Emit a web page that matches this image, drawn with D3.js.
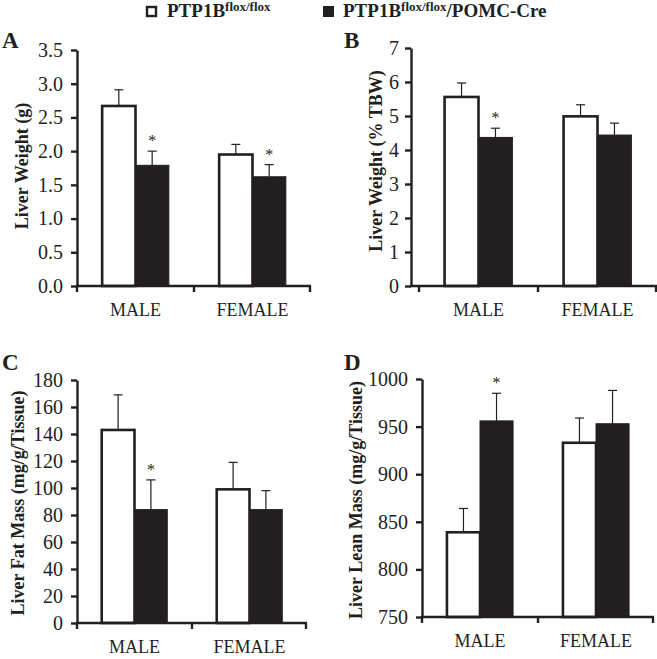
<!DOCTYPE html>
<html>
<head>
<meta charset="utf-8">
<style>
body { margin: 0; background: #fff; }
svg { font-family: "Liberation Serif", "Times New Roman", serif; }
</style>
</head>
<body>
<svg width="657" height="659"></svg>
<script src="https://d3js.org/d3.v7.min.js"></script>
<script>
var groups = ["MALE", "FEMALE"];
var keys = ["flox", "pomc"];

// means and upper error bars, [MALE, FEMALE]
var weightG      = {flox: [2.67, 1.95], pomc: [1.79, 1.62]};
var weightGErr   = {flox: [2.91, 2.10], pomc: [2.00, 1.80]};
var weightPct    = {flox: [5.56, 4.99], pomc: [4.37, 4.44]};
var weightPctErr = {flox: [5.97, 5.33], pomc: [4.64, 4.79]};
var fatMass      = {flox: [143, 99], pomc: [84, 84]};
var fatMassErr   = {flox: [169, 119], pomc: [106, 98]};
var leanMass     = {flox: [839, 933], pomc: [956, 953]};
var leanMassErr  = {flox: [864, 959], pomc: [985, 988]};

var ticksA = [0, 0.5, 1.0, 1.5, 2.0, 2.5, 3.0, 3.5];
var ticksB = [0, 1, 2, 3, 4, 5, 6, 7];
var ticksC = [0, 20, 40, 60, 80, 100, 120, 140, 160, 180];
var ticksD = [750, 800, 850, 900, 950, 1000];

var svg = d3.select("svg");
var fills = {flox: "#fff", pomc: "#231f20"};

var panels = [
  {letter: "A", lx: 2, ly: 48, left: 77, start: 77, right: 311, top: 50, bottom: 286,
   ticks: ticksA, fmt: d3.format(".1f"), label: "Liver Weight (g)", labX: 28, labY: 166, pad: 8,
   mean: weightG, err: weightGErr, stars: {pomc: [true, true]}},
  {letter: "B", lx: 344, ly: 48, left: 411, start: 419, right: 657, top: 48, bottom: 286,
   ticks: ticksB, fmt: d3.format("d"), label: "Liver Weight (% TBW)", labX: 382, labY: 161, pad: 6,
   mean: weightPct, err: weightPctErr, stars: {pomc: [true, false]}},
  {letter: "C", lx: 2, ly: 370, left: 77, start: 77, right: 307, top: 380, bottom: 623,
   ticks: ticksC, fmt: d3.format("d"), label: "Liver Fat Mass (mg/g/Tissue)", labX: 24, labY: 503, pad: 8,
   mean: fatMass, err: fatMassErr, stars: {pomc: [true, false]}},
  {letter: "D", lx: 344, ly: 370, left: 422, start: 422, right: 654, top: 379, bottom: 617,
   ticks: ticksD, fmt: d3.format("d"), label: "Liver Lean Mass (mg/g/Tissue)", labX: 362, labY: 500, pad: 8,
   mean: leanMass, err: leanMassErr, stars: {pomc: [true, false]}}
];

panels.forEach(function(p) {
  var g = svg.append("g");
  var y = d3.scaleLinear()
      .domain(d3.extent(p.ticks))
      .range([p.bottom, p.top]);
  var x0 = d3.scaleBand().domain(groups).range([p.start, p.right]);
  var bw = x0.bandwidth();
  var x1 = d3.scaleBand().domain(keys).range([bw * 0.215, bw * 0.785]);

  // bars
  groups.forEach(function(grp, gi) {
    keys.forEach(function(k) {
      var xb = x0(grp) + x1(k), w = x1.bandwidth();
      var yv = y(p.mean[k][gi]), ye = y(p.err[k][gi]);
      var cx = xb + w / 2;
      g.append("line")
          .attr("x1", cx).attr("x2", cx)
          .attr("y1", yv).attr("y2", ye)
          .attr("stroke", "#231f20").attr("stroke-width", 1.2);
      g.append("line")
          .attr("x1", cx - 4.5).attr("x2", cx + 4.5)
          .attr("y1", ye).attr("y2", ye)
          .attr("stroke", "#231f20").attr("stroke-width", 1.2);
      g.append("rect")
          .attr("x", xb).attr("y", yv)
          .attr("width", w).attr("height", p.bottom - yv)
          .attr("fill", fills[k])
          .attr("stroke", "#231f20")
          .attr("stroke-width", k == "flox" ? 2.6 : 1);
      if (p.stars[k] && p.stars[k][gi]) {
        g.append("text")
            .attr("x", cx).attr("y", ye - 5)
            .attr("text-anchor", "middle")
            .attr("font-size", 16)
            .attr("fill", "#231f20")
            .text("*");
      }
    });
  });

  // y axis
  var yAxis = g.append("g")
      .attr("transform", "translate(" + p.left + ",0)")
      .call(d3.axisLeft(y).tickValues(p.ticks).tickFormat(p.fmt).tickSize(6).tickSizeOuter(0).tickPadding(p.pad));
  yAxis.selectAll("path, line").attr("stroke", "#231f20").attr("stroke-width", 2.4);
  yAxis.selectAll("text").attr("font-size", 20).attr("fill", "#231f20")
      .attr("font-family", "Liberation Serif");

  // x axis
  var xg = g.append("g");
  xg.append("line")
      .attr("x1", p.left - 1).attr("x2", p.right)
      .attr("y1", p.bottom).attr("y2", p.bottom)
      .attr("stroke", "#231f20").attr("stroke-width", 2.6);
  [p.start, x0("FEMALE"), p.right - 1].forEach(function(tx) {
    xg.append("line")
        .attr("x1", tx).attr("x2", tx)
        .attr("y1", p.bottom).attr("y2", p.bottom + 6)
        .attr("stroke", "#231f20").attr("stroke-width", 2.4);
  });
  groups.forEach(function(grp) {
    xg.append("text")
        .attr("x", x0(grp) + bw / 2)
        .attr("y", p.bottom + 30)
        .attr("text-anchor", "middle")
        .attr("font-size", 18)
        .attr("fill", "#231f20")
        .text(grp);
  });

  // axis title
  g.append("text")
      .attr("transform", "translate(" + p.labX + "," + p.labY + ") rotate(-90)")
      .attr("text-anchor", "middle")
      .attr("font-size", 18)
      .attr("font-weight", "bold")
      .attr("fill", "#231f20")
      .text(p.label);

  // panel letter
  g.append("text")
      .attr("x", p.lx).attr("y", p.ly)
      .attr("font-size", 23)
      .attr("font-weight", "bold")
      .attr("fill", "#231f20")
      .text(p.letter);
});

// legend
var legend = svg.append("g").attr("font-weight", "bold").attr("fill", "#231f20");
legend.append("rect").attr("x", 147).attr("y", 7).attr("width", 9).attr("height", 9)
    .attr("fill", "#fff").attr("stroke", "#231f20").attr("stroke-width", 2.4);
var t1 = legend.append("text").attr("x", 167).attr("y", 17).attr("font-size", 19);
t1.append("tspan").text("PTP1B");
t1.append("tspan").attr("font-size", 13).attr("dy", -6).text("flox/flox");

legend.append("rect").attr("x", 323).attr("y", 6).attr("width", 11).attr("height", 11)
    .attr("fill", "#231f20");
var t2 = legend.append("text").attr("x", 343).attr("y", 17).attr("font-size", 19);
t2.append("tspan").text("PTP1B");
t2.append("tspan").attr("font-size", 13).attr("dy", -6).text("flox/flox");
t2.append("tspan").attr("dy", 6).text("/POMC-Cre");
</script>
</body>
</html>
